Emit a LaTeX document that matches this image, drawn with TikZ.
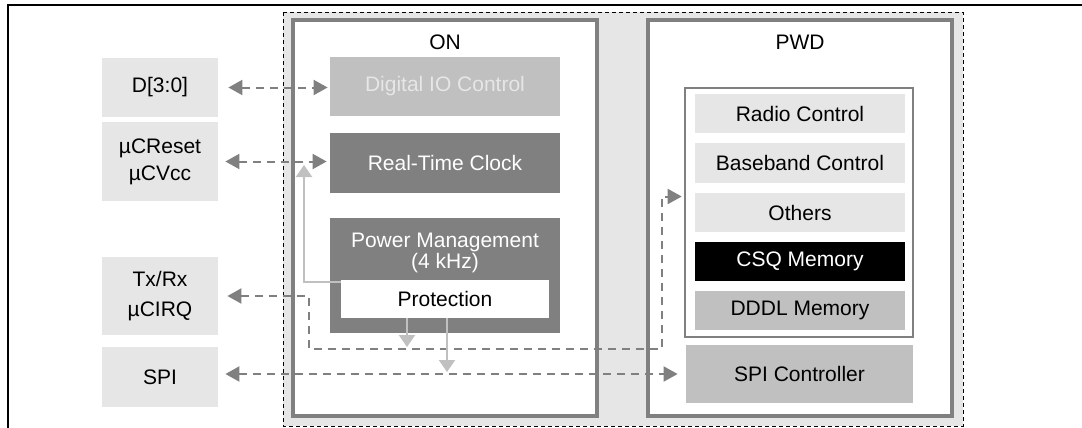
\documentclass[tikz,border=0pt]{standalone}
\usepackage{fontspec}
\setmainfont{Liberation Sans}
\usetikzlibrary{positioning,arrows.meta}
\definecolor{lightbox}{HTML}{E6E6E6}
\definecolor{midbox}{HTML}{C0C0C0}
\definecolor{darkbox}{HTML}{808080}

\begin{document}
\begin{tikzpicture}[x=0.5pt,y=-0.5pt,font=\fontsize{10.5}{13.5}\selectfont,
  blk/.style={rectangle,inner sep=0pt,align=center},
  dcon/.style={darkbox,line width=1pt,dash pattern=on 4pt off 3pt,{Triangle[length=7pt,width=7.5pt]}-{Triangle[length=7pt,width=7.5pt]}},
  lcon/.style={midbox,line width=1pt,-{Triangle[length=6pt,width=8pt]}}]
\useasboundingbox (0,0) rectangle (1082,428);
\draw[line width=1pt] (8,428)--(8,5)--(1082,5);
\draw[line width=0.5pt,dash pattern=on 2pt off 1.5pt,fill=lightbox] (283,12) rectangle (963,426);
\draw[darkbox,line width=1.6pt,fill=white] (293,20) rectangle (597,416);
\draw[darkbox,line width=1.6pt,fill=white] (648,20) rectangle (952,416);
% outside signals
\node[blk,fill=lightbox,minimum width=58pt,minimum height=29.5pt] (d30) at (160,87.5) {D[3:0]};
\node[blk,fill=lightbox,minimum width=58pt,minimum height=39.5pt] (ucr) at (160,161.5) {µCReset\\µCVcc};
\node[blk,fill=lightbox,minimum width=58pt,minimum height=39pt] (txrx) at (160,296) {Tx/Rx\\[1.5pt]µCIRQ};
\node[blk,fill=lightbox,minimum width=58pt,minimum height=30pt] (spi) at (160,377) {SPI};
% ON domain
\node (on) at (445,42) {ON};
\node[blk,fill=midbox,text=lightbox,minimum width=115pt,minimum height=29.5pt] (dio) at (445,86.5) {Digital IO Control};
\node[blk,fill=darkbox,text=white,minimum width=115pt,minimum height=30pt] (rtc) at (445,163) {Real-Time Clock};
\node[blk,fill=darkbox,minimum width=115pt,minimum height=57.5pt] (pm) at (445,275.5) {};
\node[blk,text=white,font=\fontsize{10.5}{10.5}\selectfont] (pmtxt) at (445,252.5) {Power Management\\(4 kHz)};
\node[blk,fill=white,minimum width=104pt,minimum height=19pt] (prot) at (445,299) {Protection};
% PWD domain
\node (pwd) at (800,42) {PWD};
\node[blk,draw=darkbox,line width=1.3pt,fill=white,minimum width=114pt,minimum height=124.5pt] (pwdin) at (799,212.5) {};
\node[blk,fill=lightbox,minimum width=105pt,minimum height=19.5pt] (radio) at (800,113.5) {Radio Control};
\node[blk,fill=lightbox,minimum width=105pt,minimum height=20pt] (bb) at (800,163) {Baseband Control};
\node[blk,fill=lightbox,minimum width=105pt,minimum height=19.5pt] (others) at (800,212.5) {Others};
\node[blk,fill=black,text=white,minimum width=105pt,minimum height=19.5pt] (csq) at (800,261.5) {CSQ Memory};
\node[blk,fill=midbox,minimum width=105pt,minimum height=19.5pt] (dddl) at (800,310.5) {DDDL Memory};
\node[blk,fill=midbox,minimum width=113.5pt,minimum height=29pt] (spic) at (799.5,374) {SPI Controller};
% connectors
\coordinate (tj1) at (309,349); \coordinate (tj2) at (662,349);
\coordinate (rtcin) at (304,165);
\coordinate (pd1) at (407,347); \coordinate (pd2) at (447,372);
\draw[dcon,shorten <=5pt,shorten >=1pt] (d30.east) -- (d30.east -| dio.west);
\draw[dcon,shorten <=3.5pt,shorten >=1.5pt] (ucr.east) -- (ucr.east -| rtc.west);
\draw[dcon,shorten <=4.5pt,shorten >=1pt] (txrx.east) -| (tj1) -- (tj2) |- ([yshift=8pt]pwdin.west);
\draw[dcon,shorten <=3.5pt,shorten >=4pt] (spi.east |- spic.west) -- (spic.west);
\draw[lcon] ([yshift=-1pt]prot.north west) -| (rtcin);
\draw[lcon] (prot.south -| pd1) -- (pd1);
\draw[lcon] (prot.south -| pd2) -- (pd2);
\end{tikzpicture}
\end{document}
